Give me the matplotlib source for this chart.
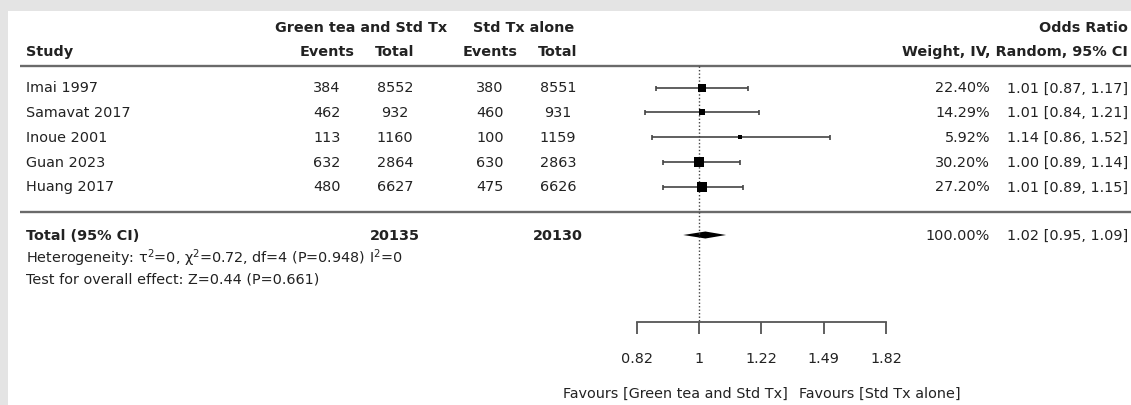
import matplotlib
matplotlib.use("Agg")
import matplotlib.pyplot as plt
from matplotlib.patches import Rectangle

# Дані мета-аналізу
studies = ['Imai 1997', 'Samavat 2017', 'Inoue 2001', 'Guan 2023', 'Huang 2017']
tea_events = [384, 462, 113, 632, 480]
tea_total = [8552, 932, 1160, 2864, 6627]
std_events = [380, 460, 100, 630, 475]
std_total = [8551, 931, 1159, 2863, 6626]
weights = [22.40, 14.29, 5.92, 30.20, 27.20]
odds = [1.01, 1.01, 1.14, 1.00, 1.01]
ci_low = [0.87, 0.84, 0.86, 0.89, 0.89]
ci_high = [1.17, 1.21, 1.52, 1.14, 1.15]
pooled = [1.02, 0.95, 1.09]
pooled_weight = 100.00
tea_sum = 20135
std_sum = 20130
xticks = [0.82, 1, 1.22, 1.49, 1.82]
xtick_labels = ['0.82', '1', '1.22', '1.49', '1.82']

W, H = 1131, 406
FS = 10.4
TXT = '#222222'
plt.rcParams['font.family'] = 'DejaVu Sans'
plt.rcParams['mathtext.fontset'] = 'dejavusans'
plt.rcParams['mathtext.default'] = 'regular'

fig = plt.figure(figsize=(W / 100, H / 100), dpi=100, facecolor='#e4e4e4')

# Таблиця - осі в пікселях
ax = fig.add_axes([0, 0, 1, 1])
ax.set_xlim(0, W)
ax.set_ylim(H, 0)
ax.axis('off')
ax.patch.set_visible(False)
ax.add_patch(Rectangle((8, 12), W - 8, H - 12, facecolor='white', edgecolor='none', zorder=0))

col_ev1, col_tot1, col_ev2, col_tot2 = 327, 395, 490, 558
x_weight, x_ci = 990, 1128
row0, step = 88.5, 24.75
rows = [row0 + i * step for i in range(len(studies))]
y_total = 236

kw = dict(fontsize=FS, color=TXT, va='center')
ax.text((col_ev1 + col_tot1) / 2, 28, 'Green tea and Std Tx', ha='center', weight='bold', **kw)
ax.text((col_ev2 + col_tot2) / 2, 28, 'Std Tx alone', ha='center', weight='bold', **kw)
ax.text(x_ci, 28, 'Odds Ratio', ha='right', weight='bold', **kw)
ax.text(26, 52, 'Study', ha='left', weight='bold', **kw)
for x, s in [(col_ev1, 'Events'), (col_tot1, 'Total'), (col_ev2, 'Events'), (col_tot2, 'Total')]:
    ax.text(x, 52, s, ha='center', weight='bold', **kw)
ax.text(x_ci, 52, 'Weight, IV, Random, 95% CI', ha='right', weight='bold', **kw)

ax.hlines([66.7, 212.7], 20, W, color='#6a6a6a', lw=1.7)

for i, y in enumerate(rows):
    ax.text(26, y, studies[i], ha='left', **kw)
    ax.text(col_ev1, y, str(tea_events[i]), ha='center', **kw)
    ax.text(col_tot1, y, str(tea_total[i]), ha='center', **kw)
    ax.text(col_ev2, y, str(std_events[i]), ha='center', **kw)
    ax.text(col_tot2, y, str(std_total[i]), ha='center', **kw)
    ax.text(x_weight, y, f'{weights[i]:.2f}%', ha='right', **kw)
    ax.text(x_ci, y, f'{odds[i]:.2f} [{ci_low[i]:.2f}, {ci_high[i]:.2f}]', ha='right', **kw)

ax.text(26, y_total, 'Total (95% CI)', ha='left', weight='bold', **kw)
ax.text(col_tot1, y_total, str(tea_sum), ha='center', weight='bold', **kw)
ax.text(col_tot2, y_total, str(std_sum), ha='center', weight='bold', **kw)
ax.text(x_weight, y_total, f'{pooled_weight:.2f}%', ha='right', **kw)
ax.text(x_ci, y_total, f'{pooled[0]:.2f} [{pooled[1]:.2f}, {pooled[2]:.2f}]', ha='right', **kw)
ax.text(26, 258, r'Heterogeneity: $\tau^2$=0, $\chi^2$=0.72, df=4 (P=0.948) I$^2$=0', ha='left', **kw)
ax.text(26, 280, 'Test for overall effect: Z=0.44 (P=0.661)', ha='left', **kw)
ax.text(788, 394, 'Favours [Green tea and Std Tx]', ha='right', **kw)
ax.text(799, 394, 'Favours [Std Tx alone]', ha='left', **kw)

# Лісова діаграма
fx = fig.add_axes([637.3 / W, 0, (886 - 637.3) / W, 1])
fx.set_xscale('log')
fx.set_xlim(0.82, 1.82)
fx.set_ylim(H, 0)
fx.patch.set_visible(False)
for s in ['top', 'left', 'right']:
    fx.spines[s].set_visible(False)
fx.spines['bottom'].set_position(('data', 322.7))
fx.spines['bottom'].set_color('#555555')
fx.spines['bottom'].set_linewidth(1.3)
fx.set_xticks(xticks)
fx.set_xticklabels(xtick_labels)
fx.minorticks_off()
fx.set_yticks([])
fx.tick_params(axis='x', direction='out', length=8.3, width=1.2, color='#444444',
               labelsize=FS, labelcolor=TXT, pad=13)

fx.vlines(1, 67, 322.7, colors='#444444', linestyles=(0, (1, 1.5)), lw=1)

for i, y in enumerate(rows):
    fx.errorbar(odds[i], y, xerr=[[odds[i] - ci_low[i]], [ci_high[i] - odds[i]]],
                fmt='none', ecolor='#444444', elinewidth=1.2, capsize=1.8, capthick=1.2)
    side = (1.5 + 0.28 * weights[i]) * 0.72
    fx.plot(odds[i], y, marker='s', ms=side, mew=0, color='black', zorder=3)

fx.fill([pooled[1], pooled[0], pooled[2], pooled[0]],
        [y_total, y_total - 3.5, y_total, y_total + 3.5], color='black', lw=0)

fig.savefig('out.png', dpi=100, facecolor=fig.get_facecolor())
